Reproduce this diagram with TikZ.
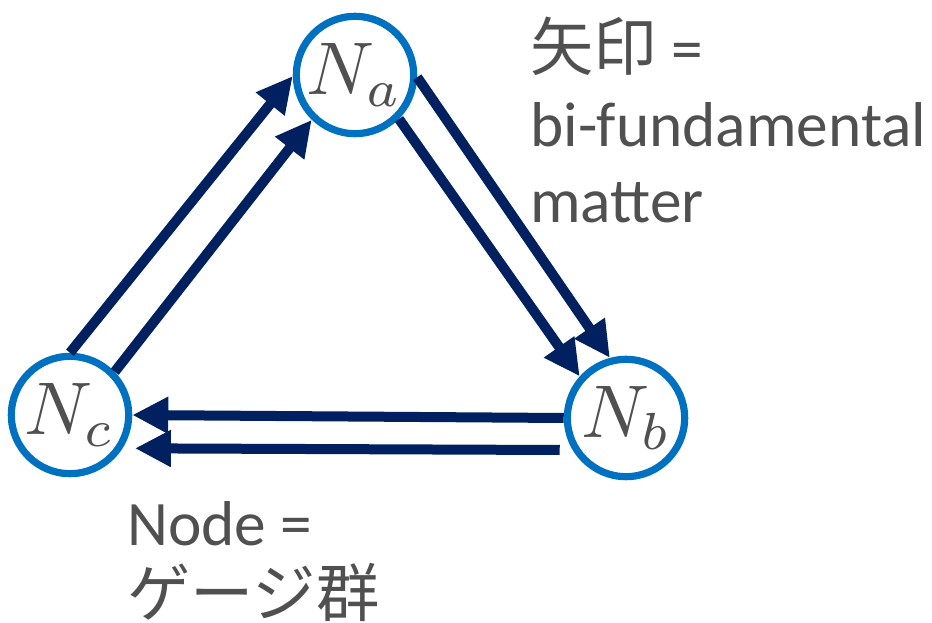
\documentclass[tikz,border=0pt]{standalone}
\usepackage{fontspec}
\setmainfont{Carlito}
\newfontfamily\cjk{Noto Sans CJK JP}
\usetikzlibrary{arrows.meta}
\definecolor{ringblue}{HTML}{0070C0}
\definecolor{arrownavy}{HTML}{002060}
\definecolor{txtgrey}{HTML}{505050}
\newcommand{\biglabel}[1]{\scalebox{5.6}{$#1$}}
\tikzset{
  gauge/.style={circle, draw=ringblue, line width=5.4pt, fill=white, minimum size=88pt, inner sep=0pt, text=txtgrey},
  matter/.style={draw=arrownavy, line width=7.5pt, -{Triangle[length=27pt,width=26pt]}},
  caption/.style={text=txtgrey, anchor=base west, inner sep=0pt, font=\fontsize{47.5}{50}\selectfont}
}
\begin{document}
\begin{tikzpicture}[x=0.75pt,y=-0.75pt]
\useasboundingbox (0,0) rectangle (932,623);
\node[gauge] (Na) at (355,75) {\biglabel{N_a}};
\node[gauge] (Nb) at (626,418) {\biglabel{N_b}};
\node[gauge] (Nc) at (70,415) {\biglabel{N_c}};
% Nc -> Na
\draw[matter] (Nc.90) -- (Na.181);
\draw[matter] (Nc.44) -- (Na.226);
% Na -> Nb
\draw[matter] (Na.358) -- (Nb.105);
\draw[matter] (Na.315) -- (Nb.138);
% Nb -> Nc
\draw[matter] (Nb.west) -- (Nc.east);
\draw[matter] ([xshift=-3pt,yshift=-24pt]Nb.west) -- ([xshift=2pt,yshift=-25pt]Nc.east);
% captions
\node[caption] (t1) at (530,71) {{\cjk 矢印} =};
\node[caption] (t2) at (530,147) {bi-fundamental};
\node[caption] (t3) at (530,223) {matter};
\node[caption] (t4) at (127,545) {Node =};
\node[caption] (t5) at (127,616) {\cjk ゲージ群};
\end{tikzpicture}
\end{document}
